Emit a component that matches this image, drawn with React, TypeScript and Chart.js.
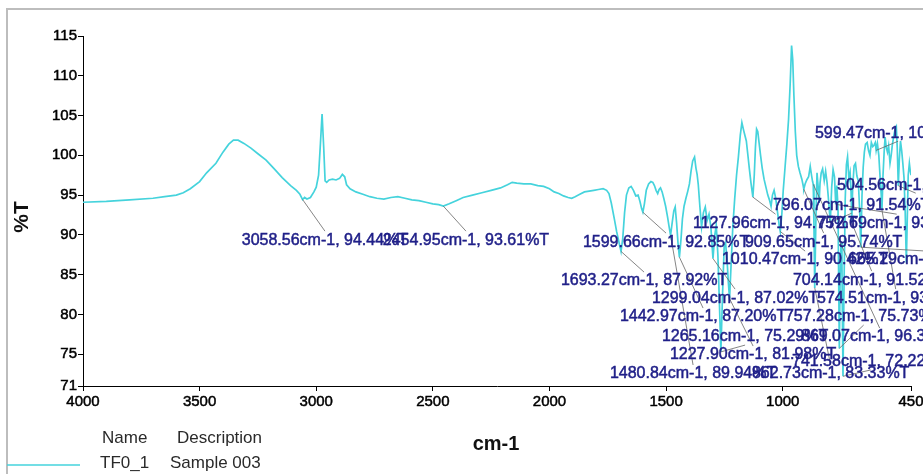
import { useEffect, useRef } from "react";
import { Chart, registerables } from "chart.js";

Chart.register(...registerables);

// ---- spectrum (wavenumber cm-1 / %T) ----
const wavenumbers = [
  4000, 3900, 3800, 3700, 3650, 3600, 3570, 3540, 3500, 3470,
  3430, 3400, 3375, 3355, 3335, 3310, 3280, 3250, 3215, 3180,
  3146, 3110, 3085, 3070, 3058.56, 3050, 3040, 3025, 3010, 3000,
  2990, 2982, 2975, 2968, 2962, 2955, 2945, 2930, 2915, 2900,
  2888, 2878, 2870, 2855, 2830, 2800, 2770, 2740, 2710, 2680,
  2650, 2620, 2590, 2560, 2530, 2500, 2475, 2454.95, 2430, 2400,
  2370, 2330, 2290, 2250, 2210, 2180, 2160, 2140, 2110, 2080,
  2050, 2025, 2000, 1980, 1960, 1940, 1920, 1905, 1890, 1870,
  1850, 1830, 1810, 1790, 1770, 1755, 1745, 1735, 1722, 1712,
  1700, 1693.27, 1686, 1678, 1670, 1660, 1650, 1640, 1630, 1620,
  1612, 1605, 1599.66, 1593, 1585, 1575, 1565, 1557, 1550, 1543,
  1536, 1530, 1524, 1517, 1510, 1502, 1494, 1487, 1480.84, 1474,
  1467, 1461, 1455, 1449, 1442.97, 1436, 1430, 1423, 1415, 1407,
  1400, 1393, 1386, 1378, 1372, 1367, 1362, 1355, 1348, 1340,
  1332, 1324, 1316, 1308, 1299.04, 1292, 1285, 1278, 1272, 1265.16,
  1258, 1251, 1245, 1238, 1233, 1227.9, 1221, 1214, 1206, 1198,
  1190, 1182, 1175, 1168, 1162, 1156, 1150, 1143, 1136, 1127.96,
  1122, 1117, 1112, 1107, 1101, 1095, 1088, 1080, 1072, 1064,
  1057, 1050, 1044, 1037, 1030, 1022, 1015, 1010.47, 1004, 998,
  990, 982, 975, 968, 962, 957, 952, 946, 940, 933,
  926, 918, 913, 909.65, 904, 897, 889, 882, 876, 872,
  869.07, 866, 862.73, 858, 853, 848, 844, 840, 835, 829,
  822, 816, 810, 803, 796.07, 790, 784, 778, 772.69, 768,
  763, 760, 757.28, 754, 750, 746, 741.58, 737, 732, 727,
  722, 716, 711, 707, 704.14, 700, 694, 688, 682, 676,
  670, 665.29, 660, 655, 650, 645, 638, 632, 626, 620,
  614, 608, 603, 599.47, 594, 588, 582, 578, 574.51, 570,
  565, 561, 556, 551, 546, 540, 535, 530, 524, 518,
  513, 509, 504.56, 500, 495, 490, 485, 480, 475, 470,
  466, 462, 457, 453, 450,
];

const transmittance = [
  94.1, 94.2, 94.4, 94.6, 94.8, 95.0, 95.3, 95.8, 96.7, 97.8,
  99.0, 100.4, 101.4, 101.9, 101.9, 101.5, 100.9, 100.2, 99.4, 98.3,
  97.2, 96.2, 95.6, 95.1, 94.44, 94.7, 94.5, 94.7, 95.4, 96.0,
  97.5, 101.5, 105.2, 101.0, 96.8, 96.6, 96.9, 97.0, 96.9, 97.1,
  97.6, 97.3, 96.3, 95.8, 95.4, 95.1, 94.8, 94.6, 94.5, 94.7,
  94.8, 94.6, 94.4, 94.3, 94.1, 93.9, 93.8, 93.61, 93.9, 94.3,
  94.7, 95.0, 95.3, 95.6, 95.9, 96.3, 96.6, 96.5, 96.4, 96.4,
  96.2, 96.1, 95.8, 95.4, 95.2, 94.9, 94.7, 94.6, 94.8, 95.1,
  95.4, 95.5, 95.6, 95.7, 95.8, 95.6, 95.2, 94.0, 92.0, 90.4,
  88.8, 87.92, 89.5, 92.8, 95.0, 95.9, 96.1, 95.6, 94.9, 95.0,
  94.2, 93.3, 92.85, 93.9, 95.6, 96.4, 96.7, 96.6, 96.2, 95.6,
  95.2, 95.7, 95.9, 95.4, 94.6, 93.6, 92.3, 91.0, 89.94, 91.5,
  93.0, 93.5, 91.5, 89.0, 87.2, 89.5, 92.0, 93.6, 94.6, 95.5,
  96.4, 98.0, 99.3, 99.8, 98.4, 97.6, 96.3, 93.5, 91.0, 92.8,
  93.5, 91.8, 92.6, 91.0, 87.02, 89.8, 91.2, 87.5, 82.0, 75.29,
  82.5, 88.5, 89.0, 86.5, 84.0, 81.98, 86.5, 91.0, 94.5, 97.5,
  99.8, 102.5, 104.1, 103.2, 102.5, 101.8, 100.2, 98.3, 96.5, 94.75,
  97.5, 101.0, 103.3, 103.0, 101.5, 100.0, 98.4, 97.0, 96.0, 95.0,
  94.4, 93.6, 95.0, 95.6, 94.6, 92.8, 91.2, 90.42, 92.5, 95.5,
  98.5, 101.5, 104.5, 109.0, 113.8, 112.0, 107.5, 103.0, 100.0, 98.6,
  97.8, 97.0, 96.3, 95.74, 96.4, 96.9, 97.3, 98.6, 97.4, 96.7,
  96.35, 91.0, 83.33, 91.5, 97.8, 96.0, 94.0, 96.5, 97.8, 98.3,
  96.8, 98.0, 96.6, 94.2, 91.54, 96.0, 98.2, 97.3, 93.84, 96.2,
  93.5, 84.0, 75.73, 84.5, 89.0, 86.0, 72.22, 84.0, 94.5, 98.8,
  99.8, 97.0, 97.8, 95.5, 91.52, 96.0, 98.7, 99.0, 97.4, 96.8,
  93.0, 88.45, 95.0, 98.5, 100.4, 101.4, 101.6, 100.6, 100.0, 101.6,
  101.1, 101.3, 101.6, 100.62, 101.5, 100.0, 97.0, 95.2, 93.12, 97.5,
  100.5, 102.3, 101.0, 100.4, 101.2, 99.0, 100.0, 101.3, 102.4, 103.3,
  103.6, 101.0, 96.18, 99.5, 101.8, 100.6, 99.0, 97.2, 93.0, 86.5,
  92.0, 97.5, 99.0, 98.0, 97.5,
];

// ---- axes ----
const xTicks = [4000, 3500, 3000, 2500, 2000, 1500, 1000, 450];
const yTicks = [71, 75, 80, 85, 90, 95, 100, 105, 110, 115];
const xTitle = "cm-1";
const yTitle = "%T";

// ---- peak annotations ----
const peakCm = [
  3058.56, 2454.95, 1693.27, 1599.66, 1480.84, 1442.97, 1299.04, 1265.16,
  1227.9, 1127.96, 1010.47, 909.65, 869.07, 862.73, 796.07, 772.69,
  757.28, 741.58, 704.14, 665.29, 599.47, 574.51, 504.56,
];
const peakT = [
  94.44, 93.61, 87.92, 92.85, 89.94, 87.2, 87.02, 75.29,
  81.98, 94.75, 90.42, 95.74, 96.35, 83.33, 91.54, 93.84,
  75.73, 72.22, 91.52, 88.45, 100.62, 93.12, 96.18,
];
// label placement (left edge in cm-1, vertical middle in %T)
const labelLeftCm = [
  3319.3, 2714.6, 1951.1, 1856.8, 1740.9, 1698.1, 1560.8, 1517.9,
  1483.6, 1384.9, 1260.6, 1161.9, 921.7, 1131.9, 1041.8, 848.8,
  990.4, 960.3, 956.1, 720.1, 861.7, 853.1, 767.3,
];
const labelMidT = [
  89.34, 89.34, 84.19, 89.09, 72.51, 79.67, 82.05, 77.15,
  74.89, 91.47, 86.83, 89.09, 77.15, 72.51, 93.73, 91.47,
  79.67, 74.02, 84.31, 86.83, 102.78, 82.05, 96.25,
];

// ---- legend ----
const legendHeaders = ["Name", "Description"];
const seriesNames = ["TF0_1"];
const seriesDescriptions = ["Sample 003"];

const CANVAS_W = 1000;
const CANVAS_H = 474;
const LINE_COLOR = "#45d3dc";
const FONT = '"Liberation Sans", Arial, sans-serif';

export default function App() {
  const ref = useRef<HTMLCanvasElement>(null);

  useEffect(() => {
    const canvas = ref.current;
    if (!canvas) return;
    const points = wavenumbers.map((w, i) => ({ x: w, y: transmittance[i] }));

    const overlay = {
      id: "overlay",
      beforeDraw(chart: any) {
        const ctx = chart.ctx;
        ctx.save();
        ctx.strokeStyle = "#bdbdbd";
        ctx.lineWidth = 2;
        ctx.beginPath();
        ctx.moveTo(7, CANVAS_H);
        ctx.lineTo(7, 9);
        ctx.lineTo(CANVAS_W, 9);
        ctx.stroke();
        ctx.restore();
      },
      afterDraw(chart: any) {
        const ctx = chart.ctx;
        const xs = chart.scales.x;
        const ys = chart.scales.y;
        const area = chart.chartArea;
        ctx.save();
        // leaders
        ctx.font = `16px ${FONT}`;
        ctx.strokeStyle = "#666";
        ctx.lineWidth = 0.8;
        peakCm.forEach((cm, i) => {
          const text = `${cm.toFixed(2)}cm-1, ${peakT[i].toFixed(2)}%T`;
          const w = ctx.measureText(text).width;
          const px = xs.getPixelForValue(cm);
          const py = ys.getPixelForValue(peakT[i]);
          const lx = xs.getPixelForValue(labelLeftCm[i]);
          const ly = ys.getPixelForValue(labelMidT[i]);
          const ex = lx + w / 2;
          const ey = py > ly ? ly + 8 : ly - 9;
          ctx.beginPath();
          ctx.moveTo(px, py);
          ctx.lineTo(ex, ey);
          ctx.stroke();
        });
        // labels
        ctx.fillStyle = "#1f1f88";
        ctx.strokeStyle = "#1f1f88";
        ctx.lineWidth = 0.5;
        ctx.textAlign = "left";
        ctx.textBaseline = "middle";
        peakCm.forEach((cm, i) => {
          const text = `${cm.toFixed(2)}cm-1, ${peakT[i].toFixed(2)}%T`;
          const lx = xs.getPixelForValue(labelLeftCm[i]);
          const ly = ys.getPixelForValue(labelMidT[i]);
          ctx.strokeText(text, lx, ly);
          ctx.fillText(text, lx, ly);
        });
        // axis titles
        ctx.fillStyle = "#111";
        ctx.textAlign = "center";
        ctx.font = `bold 20px ${FONT}`;
        ctx.fillText(xTitle, (area.left + area.right) / 2 - 1, 444);
        ctx.save();
        ctx.translate(22.5, (area.top + area.bottom) / 2 + 6);
        ctx.rotate(-Math.PI / 2);
        ctx.font = `bold 21px ${FONT}`;
        ctx.fillText(yTitle, 0, 0);
        ctx.restore();
        // legend
        ctx.textAlign = "left";
        ctx.fillStyle = "#2a2a2a";
        ctx.font = `17px ${FONT}`;
        ctx.fillText(legendHeaders[0], 102, 438);
        ctx.fillText(legendHeaders[1], 177, 438);
        seriesNames.forEach((n, i) => {
          const y = 463 + i * 25;
          ctx.fillText(n, 100, y);
          ctx.fillText(seriesDescriptions[i], 170, y);
          ctx.strokeStyle = LINE_COLOR;
          ctx.lineWidth = 1.6;
          ctx.beginPath();
          ctx.moveTo(7, y + 2);
          ctx.lineTo(80, y + 2);
          ctx.stroke();
        });
        ctx.restore();
      },
    };

    const tickFont = { family: FONT, size: 15 };
    const chart = new Chart(canvas, {
      type: "line",
      data: {
        datasets: [
          {
            data: points,
            borderColor: LINE_COLOR,
            borderWidth: 1.7,
            pointRadius: 0,
            tension: 0,
            fill: false,
          },
        ],
      },
      options: {
        animation: false,
        responsive: false,
        maintainAspectRatio: false,
        layout: { padding: { left: 0, right: CANVAS_W - 911, top: 36, bottom: 0 } },
        plugins: { legend: { display: false }, tooltip: { enabled: false } },
        scales: {
          x: {
            type: "linear",
            reverse: true,
            min: 450,
            max: 4000,
            afterBuildTicks: (s: any) => {
              s.ticks = xTicks.map((v) => ({ value: v }));
            },
            afterFit: (s: any) => {
              s.height = 88;
            },
            grid: { drawOnChartArea: false, drawTicks: true, tickLength: 5, color: "#000" },
            border: { display: true, color: "#000", width: 1 },
            ticks: {
              autoSkip: false,
              maxRotation: 0,
              padding: 2,
              color: "#000",
              textStrokeColor: "#000",
              textStrokeWidth: 0.5,
              font: tickFont,
              callback: (v: any) => String(v),
            },
          },
          y: {
            type: "linear",
            min: 71,
            max: 115,
            afterBuildTicks: (s: any) => {
              s.ticks = yTicks.map((v) => ({ value: v }));
            },
            afterFit: (s: any) => {
              s.width = 83;
            },
            grid: { drawOnChartArea: false, drawTicks: true, tickLength: 5, color: "#000" },
            border: { display: true, color: "#000", width: 1 },
            ticks: {
              autoSkip: false,
              padding: 1,
              color: "#000",
              textStrokeColor: "#000",
              textStrokeWidth: 0.5,
              font: tickFont,
              callback: (v: any) => String(v),
            },
          },
        },
      },
      plugins: [overlay],
    } as any);
    return () => chart.destroy();
  }, []);

  return (
    <div
      style={{
        position: "absolute",
        left: 0,
        top: 0,
        width: 923,
        height: 474,
        overflow: "hidden",
        background: "#fff",
      }}
    >
      <canvas
        ref={ref}
        width={CANVAS_W}
        height={CANVAS_H}
        style={{ display: "block", width: CANVAS_W, height: CANVAS_H }}
      />
    </div>
  );
}
